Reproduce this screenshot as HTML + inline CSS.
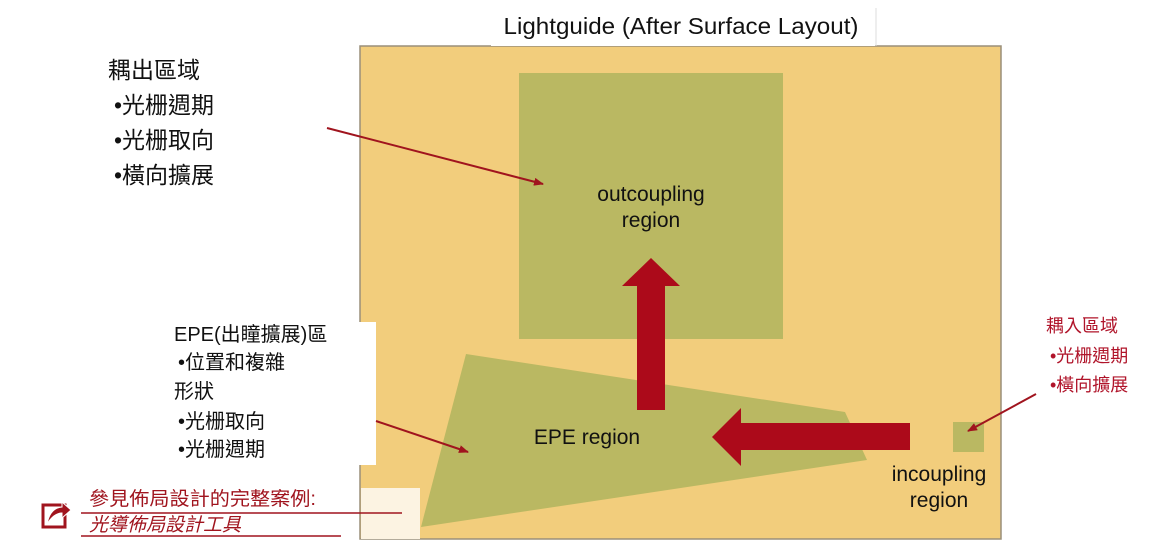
<!DOCTYPE html>
<html><head><meta charset="utf-8"><style>
html,body{margin:0;padding:0;background:#fff;}
svg{display:block;}
text{font-family:"Liberation Sans","Noto Sans CJK TC",sans-serif;}
</style></head><body>
<svg width="1151" height="551" viewBox="0 0 1151 551" xmlns="http://www.w3.org/2000/svg">
<defs>
<marker id="ah" markerWidth="10" markerHeight="8" refX="9" refY="4" orient="auto" markerUnits="userSpaceOnUse">
<path d="M0,0 L10,4 L0,8 Z" fill="#A0141E"/></marker>
</defs>
<rect x="360" y="46" width="641" height="493" fill="#F2CD7C" stroke="#9a8f7a" stroke-width="1.5"/>
<rect x="491" y="8" width="384" height="38" fill="#fff"/>
<line x1="876" y1="8" x2="876" y2="46" stroke="#ddd"/>
<text x="681" y="34" font-size="23" text-anchor="middle" fill="#111" textLength="355" lengthAdjust="spacingAndGlyphs">Lightguide  (After Surface Layout)</text>
<rect x="519" y="73" width="264" height="266" fill="#BAB862"/>
<text x="651" y="201" font-size="21" text-anchor="middle" fill="#111">outcoupling</text>
<text x="651" y="227" font-size="21" text-anchor="middle" fill="#111">region</text>
<polygon points="466,354 845,412 867,460 421,527" fill="#BAB862"/>
<text x="587" y="444" font-size="21" text-anchor="middle" fill="#111">EPE region</text>
<rect x="637" y="285" width="28" height="125" fill="#AC0A1A"/>
<polygon points="622,286 651,258 680,286" fill="#AC0A1A"/>
<rect x="740" y="423" width="170" height="27" fill="#AC0A1A"/>
<polygon points="741,408 712,437 741,466" fill="#AC0A1A"/>
<rect x="953" y="422" width="31" height="30" fill="#BAB862"/>
<text x="939" y="481" font-size="21" text-anchor="middle" fill="#111">incoupling</text>
<text x="939" y="507" font-size="21" text-anchor="middle" fill="#111">region</text>
<rect x="160" y="322" width="216" height="143" fill="#fff"/>
<rect x="361" y="488" width="59" height="51" fill="#FCF3E2"/>
<line x1="327" y1="128" x2="543" y2="184" stroke="#A0141E" stroke-width="2" marker-end="url(#ah)"/>
<line x1="376" y1="421" x2="468" y2="452" stroke="#A0141E" stroke-width="2" marker-end="url(#ah)"/>
<line x1="1036" y1="394" x2="968" y2="431" stroke="#A0141E" stroke-width="2" marker-end="url(#ah)"/>
<g font-size="23" fill="#111">
<text x="108" y="78">耦出區域</text>
<text x="114" y="113">•光栅週期</text>
<text x="114" y="148">•光栅取向</text>
<text x="114" y="183">•橫向擴展</text>
</g>
<g font-size="20" fill="#111">
<text x="174" y="341">EPE(出瞳擴展)區</text>
<text x="178" y="369">•位置和複雜</text>
<text x="174" y="398">形狀</text>
<text x="178" y="428">•光栅取向</text>
<text x="178" y="456">•光栅週期</text>
</g>
<g font-size="18" fill="#B0142A">
<text x="1046" y="332">耦入區域</text>
<text x="1050" y="362">•光栅週期</text>
<text x="1050" y="391">•橫向擴展</text>
</g>
<text x="89" y="505" font-size="19" fill="#A0141E" textLength="227" lengthAdjust="spacingAndGlyphs">參見佈局設計的完整案例:</text>
<line x1="81" y1="513" x2="402" y2="513" stroke="#A0141E" stroke-width="1.5"/>
<text x="89" y="531" font-size="19" fill="#A0141E" font-style="italic">光導佈局設計工具</text>
<line x1="81" y1="536" x2="341" y2="536" stroke="#A0141E" stroke-width="1.5"/>
<rect x="43" y="505" width="22" height="22" fill="none" stroke="#A0141E" stroke-width="3"/>
<path d="M47,524 Q50,508 62,507 L62,502 L71,510 L62,518 L62,513 Q54,513 47,524 Z" fill="#A0141E" stroke="#fff" stroke-width="1"/>
</svg>
</body></html>
